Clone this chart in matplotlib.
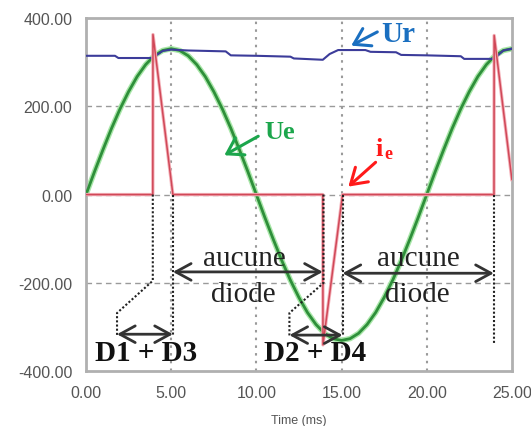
import matplotlib
matplotlib.use("Agg")
import matplotlib.pyplot as plt
from matplotlib.patches import FancyArrowPatch

# ---------------- data ----------------
t_ue = [0.0, 0.5, 1.0, 1.5, 2.0, 2.5, 3.0, 3.5, 4.0, 4.5, 5.0,
        5.5, 6.0, 6.5, 7.0, 7.5, 8.0, 8.5, 9.0, 9.5, 10.0,
        10.5, 11.0, 11.5, 12.0, 12.5, 13.0, 13.5, 14.0, 14.5, 15.0,
        15.5, 16.0, 16.5, 17.0, 17.5, 18.0, 18.5, 19.0, 19.5, 20.0,
        20.5, 21.0, 21.5, 22.0, 22.5, 23.0, 23.5, 24.0, 24.5, 25.0]
ue = [0, 52, 102, 150, 194, 233, 267, 294, 314, 326, 330,
      326, 314, 294, 267, 233, 194, 150, 102, 52, 0,
      -52, -102, -150, -194, -233, -267, -294, -314, -326, -330,
      -326, -314, -294, -267, -233, -194, -150, -102, -52, 0,
      52, 102, 150, 194, 233, 267, 294, 314, 326, 330]

t_ur = [0.0, 1.7, 1.9, 3.9, 4.5, 5.0, 6.0, 8.2, 8.5, 10.0, 12.0, 12.2,
        13.9, 14.3, 14.8, 16.4, 16.7, 18.2, 18.5, 20.0, 22.0, 22.2,
        23.95, 24.5, 25.0]
ur = [314, 314, 309, 309, 325, 328, 326, 324, 315, 314, 312, 308,
      305, 318, 327, 327, 323, 322, 316, 315, 313, 307,
      307, 326, 330]

t_ie = [0.0, 3.92, 3.93, 5.1, 13.9, 13.91, 15.06, 23.95, 23.96, 25.0]
ie = [0, 0, 362, 0, 0, -340, 0, 0, 360, 34]

x_ticks = [0, 5, 10, 15, 20, 25]
y_ticks = [-400, -200, 0, 200, 400]
x_label = "Time (ms)"

# ---------------- figure ----------------
fig = plt.figure(figsize=(5.31, 4.27), dpi=100)
ax = fig.add_axes([0.162, 0.128, 0.802, 0.828])

ax.set_xlim(0, 25)
ax.set_ylim(-400, 400)

# grid
for yv in [200, 0, -200]:
    ax.axhline(yv, color="#9a9a9a", lw=1.0, ls=(0, (4, 3)), zorder=0)
for xv in [5, 10, 15, 20]:
    ax.axvline(xv, color="#9a9a9a", lw=1.5, ls=(0, (1.2, 2.5)), zorder=0)

# curves
ax.plot(t_ue, ue, color="#a8e6a8", lw=4.0, zorder=2, solid_capstyle="round")
ax.plot(t_ue, ue, color="#2e8f3a", lw=2.0, zorder=3)
ax.plot(t_ur, ur, color="#3c3c9a", lw=1.5, zorder=3)
ax.plot(t_ie, ie, color="#f4b0b8", lw=2.4, zorder=3)
ax.plot(t_ie, ie, color="#d04858", lw=1.1, zorder=4)

# axes styling
for s in ax.spines.values():
    s.set_color("#b0b0b0")
    s.set_linewidth(2.0)
ax.set_xticks(x_ticks)
ax.set_yticks(y_ticks)
ax.set_xticklabels([f"{v:.2f}" for v in x_ticks])
ax.set_yticklabels([f"{v:.2f}" for v in y_ticks])
ax.tick_params(length=0, labelsize=11.5, colors="#555555", pad=10)
for lab in ax.get_xticklabels() + ax.get_yticklabels():
    lab.set_family("Liberation Sans")
ax.set_xlabel(x_label, fontsize=9, color="#555555", family="Liberation Sans", labelpad=10)

serif = "Liberation Serif"
dot = dict(color="#222222", lw=1.5, ls=(0, (1, 1)), zorder=5)

# dotted guide lines
ax.plot([3.92, 3.92, 1.82, 1.82], [0, -195, -268, -318], **dot)
ax.plot([5.1, 5.1], [0, -318], **dot)
ax.plot([13.94, 13.94, 11.94, 11.94], [0, -200, -268, -320], **dot)
ax.plot([15.06, 15.06], [0, -320], **dot)
ax.plot([23.94, 23.94], [0, -341], **dot)

def dbl(x0, x1, y):
    a = FancyArrowPatch((x0, y), (x1, y), arrowstyle="<->,head_length=0.55,head_width=0.3",
                        mutation_scale=20, color="#333333", lw=2.0, zorder=6,
                        shrinkA=0, shrinkB=0)
    ax.add_patch(a)

dbl(1.82, 5.1, -316)
dbl(11.94, 15.06, -318)
dbl(5.1, 13.9, -175)
dbl(15.06, 23.94, -178)

ax.text(3.5, -357, "D1 + D3", family=serif, weight="bold", fontsize=21,
        ha="center", va="center", color="#111111", zorder=7)
ax.text(13.45, -357, "D2 + D4", family=serif, weight="bold", fontsize=21,
        ha="center", va="center", color="#111111", zorder=7)
for xc in [9.3, 19.5]:
    ax.text(xc, -143, "aucune", family=serif, fontsize=21, ha="center",
            va="center", color="#222222", zorder=7)
    ax.text(xc - 0.05, -225, "diode", family=serif, fontsize=21, ha="center",
            va="center", color="#222222", zorder=7)

def single(p_tail, p_head, color):
    a = FancyArrowPatch(p_tail, p_head, arrowstyle="->,head_length=0.55,head_width=0.35",
                        mutation_scale=20, color=color, lw=2.2, zorder=8,
                        shrinkA=0, shrinkB=0)
    ax.add_patch(a)

# Ur label
single((17.1, 368), (15.57, 337), "#1a6fc0")
ax.text(17.35, 365, "Ur", family=serif, weight="bold", fontsize=21,
        color="#1a6fc0", va="center", ha="left", zorder=8)
# Ue label
single((10.11, 132), (8.12, 89), "#1ca64c")
ax.text(10.45, 143, "Ue", family=serif, weight="bold", fontsize=19,
        color="#1ca64c", va="center", ha="left", zorder=8)
# ie label
single((17.0, 73), (15.4, 18), "#ff1a1a")
ax.text(17.0, 105, "i", family=serif, weight="bold", fontsize=19,
        color="#ff1a1a", va="center", ha="left", zorder=8)
ax.text(17.5, 93, "e", family=serif, weight="bold", fontsize=13,
        color="#ff1a1a", va="center", ha="left", zorder=8)

fig.savefig("out.png", dpi=100)
